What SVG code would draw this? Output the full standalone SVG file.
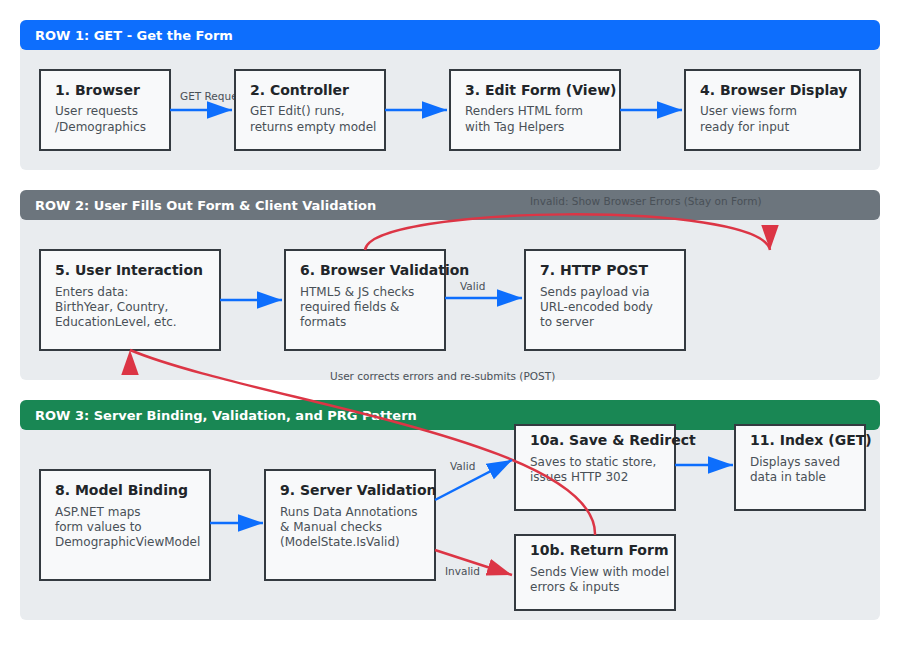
<svg xmlns="http://www.w3.org/2000/svg" width="900" height="650" viewBox="0 0 900 650">
<defs>
<marker id="ab" viewBox="0 0 10 7" refX="10" refY="3.5" markerWidth="10" markerHeight="7" orient="auto"><path d="M0,0L10,3.5L0,7z" fill="#0d6efd"/></marker>
<marker id="ar" viewBox="0 0 10 7" refX="10" refY="3.5" markerWidth="10" markerHeight="7" orient="auto"><path d="M0,0L10,3.5L0,7z" fill="#dc3545"/></marker>
<marker id="ard" viewBox="0 0 10 7" refX="10" refY="3.5" markerWidth="10" markerHeight="7" orient="90"><path d="M0,0L10,3.5L0,7z" fill="#dc3545"/></marker>
<marker id="aru" viewBox="0 0 10 7" refX="10" refY="3.5" markerWidth="10" markerHeight="7" orient="270"><path d="M0,0L10,3.5L0,7z" fill="#dc3545"/></marker>
</defs>
<style>
text{font-family:"DejaVu Sans",sans-serif}
.hd{font-size:13px;font-weight:bold;fill:#fff}
.nb{fill:#f8f9fa;stroke:#343a40;stroke-width:2}
.t{font-size:14px;font-weight:bold;fill:#212529}
.b{font-size:12px;fill:#495057}
.lb{font-size:10.5px;fill:#495057}
.eb{fill:none;stroke:#0d6efd;stroke-width:2.5;marker-end:url(#ab)}
.er{fill:none;stroke:#dc3545;stroke-width:2.5;marker-end:url(#ar)}
</style>
<rect width="900" height="650" fill="#fff"/>
<g id="bands">
<rect x="20" y="20" width="860" height="150" rx="6" fill="#e9ecef"/>
<rect x="20" y="20" width="860" height="30" rx="6" fill="#0d6efd"/>
<text class="hd" x="35" y="40">ROW 1: GET - Get the Form</text>
<rect x="20" y="190" width="860" height="190" rx="6" fill="#e9ecef"/>
<rect x="20" y="190" width="860" height="30" rx="6" fill="#6c757d"/>
<text class="hd" x="35" y="210">ROW 2: User Fills Out Form &amp; Client Validation</text>
<rect x="20" y="400" width="860" height="220" rx="6" fill="#e9ecef"/>
<rect x="20" y="400" width="860" height="30" rx="6" fill="#198754"/>
<text class="hd" x="35" y="420">ROW 3: Server Binding, Validation, and PRG Pattern</text>
</g>
<g id="connector-labels">
<text class="lb" x="180" y="100">GET Request</text>
<text class="lb" x="460" y="290">Valid</text>
<text class="lb" x="530" y="205">Invalid: Show Browser Errors (Stay on Form)</text>
<text class="lb" x="330" y="380">User corrects errors and re-submits (POST)</text>
<text class="lb" x="450" y="470">Valid</text>
<text class="lb" x="445" y="575">Invalid</text>
</g>
<g id="n1"><rect class="nb" x="40" y="70" width="130" height="80"/><text class="t" x="55" y="95">1. Browser</text><text class="b" x="55" y="115">User requests</text><text class="b" x="55" y="131">/Demographics</text></g>
<g id="n2"><rect class="nb" x="235" y="70" width="150" height="80"/><text class="t" x="250" y="95">2. Controller</text><text class="b" x="250" y="115">GET Edit() runs,</text><text class="b" x="250" y="131">returns empty model</text></g>
<g id="n3"><rect class="nb" x="450" y="70" width="170" height="80"/><text class="t" x="465" y="95">3. Edit Form (View)</text><text class="b" x="465" y="115">Renders HTML form</text><text class="b" x="465" y="131">with Tag Helpers</text></g>
<g id="n4"><rect class="nb" x="685" y="70" width="175" height="80"/><text class="t" x="700" y="95">4. Browser Display</text><text class="b" x="700" y="115">User views form</text><text class="b" x="700" y="131">ready for input</text></g>
<g id="n5"><rect class="nb" x="40" y="250" width="180" height="100"/><text class="t" x="55" y="275">5. User Interaction</text><text class="b" x="55" y="296">Enters data:</text><text class="b" x="55" y="311">BirthYear, Country,</text><text class="b" x="55" y="326">EducationLevel, etc.</text></g>
<g id="n6"><rect class="nb" x="285" y="250" width="160" height="100"/><text class="t" x="300" y="275">6. Browser Validation</text><text class="b" x="300" y="296">HTML5 &amp; JS checks</text><text class="b" x="300" y="311">required fields &amp;</text><text class="b" x="300" y="326">formats</text></g>
<g id="n7"><rect class="nb" x="525" y="250" width="160" height="100"/><text class="t" x="540" y="275">7. HTTP POST</text><text class="b" x="540" y="296">Sends payload via</text><text class="b" x="540" y="311">URL-encoded body</text><text class="b" x="540" y="326">to server</text></g>
<g id="n8"><rect class="nb" x="40" y="470" width="170" height="110"/><text class="t" x="55" y="495">8. Model Binding</text><text class="b" x="55" y="516">ASP.NET maps</text><text class="b" x="55" y="531">form values to</text><text class="b" x="55" y="546">DemographicViewModel</text></g>
<g id="n9"><rect class="nb" x="265" y="470" width="170" height="110"/><text class="t" x="280" y="495">9. Server Validation</text><text class="b" x="280" y="516">Runs Data Annotations</text><text class="b" x="280" y="531">&amp; Manual checks</text><text class="b" x="280" y="546">(ModelState.IsValid)</text></g>
<g id="n10a"><rect class="nb" x="515" y="425" width="160" height="85"/><text class="t" x="530" y="445">10a. Save &amp; Redirect</text><text class="b" x="530" y="466">Saves to static store,</text><text class="b" x="530" y="481">issues HTTP 302</text></g>
<g id="n11"><rect class="nb" x="735" y="425" width="130" height="85"/><text class="t" x="750" y="445">11. Index (GET)</text><text class="b" x="750" y="466">Displays saved</text><text class="b" x="750" y="481">data in table</text></g>
<g id="n10b"><rect class="nb" x="515" y="535" width="160" height="75"/><text class="t" x="530" y="555">10b. Return Form</text><text class="b" x="530" y="576">Sends View with model</text><text class="b" x="530" y="591">errors &amp; inputs</text></g>
<g id="connectors">
<path class="eb" d="M170,110H232"/>
<path class="eb" d="M385,110H447"/>
<path class="eb" d="M620,110H682"/>
<path class="eb" d="M220,300H282"/>
<path class="eb" d="M445,298H522"/>
<path class="er" style="marker-end:url(#ard)" d="M365,250C370,205 760,200 770,250"/>
<path class="er" style="marker-end:url(#aru)" d="M595,535C598,440 250,400 130,350"/>
<path class="eb" d="M210,523H263"/>
<path class="eb" d="M435,500L512,460"/>
<path class="er" d="M435,550L512,575"/>
<path class="eb" d="M675,465H733"/>
</g>
</svg>
